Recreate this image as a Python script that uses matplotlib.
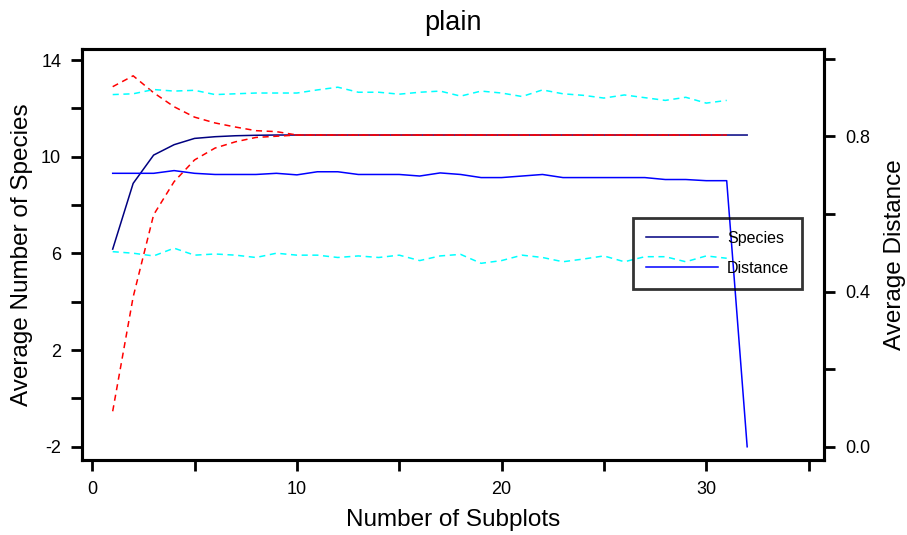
import matplotlib.pyplot as plt
from matplotlib.ticker import MultipleLocator

plt.rcParams['font.family'] = ['Liberation Sans', 'DejaVu Sans']
plt.rcParams['axes.unicode_minus'] = False

# x values (number of subplots)
subplots = list(range(1, 33))
subplots_ci = list(range(1, 32))

# average number of species (left axis)
species = [6.18, 8.9, 10.07, 10.5, 10.76, 10.83, 10.87, 10.89, 10.9, 10.9,
           10.9, 10.9, 10.9, 10.9, 10.9, 10.9, 10.9, 10.9, 10.9, 10.9,
           10.9, 10.9, 10.9, 10.9, 10.9, 10.9, 10.9, 10.9, 10.9, 10.9,
           10.9, 10.9]
species_hi = [12.9, 13.35, 12.65, 12.07, 11.64, 11.4, 11.23, 11.08, 11.04, 10.9,
              10.9, 10.9, 10.9, 10.9, 10.9, 10.9, 10.9, 10.9, 10.9, 10.9,
              10.9, 10.9, 10.9, 10.9, 10.9, 10.9, 10.9, 10.9, 10.9, 10.9,
              10.9]
species_lo = [-0.53, 4.2, 7.6, 8.97, 9.87, 10.36, 10.62, 10.8, 10.85, 10.9,
              10.9, 10.9, 10.9, 10.9, 10.9, 10.9, 10.9, 10.9, 10.9, 10.9,
              10.9, 10.9, 10.9, 10.9, 10.9, 10.9, 10.9, 10.9, 10.9, 10.9,
              10.9]

# average distance (right axis)
distance = [0.705, 0.705, 0.705, 0.712, 0.705, 0.702, 0.702, 0.702, 0.705, 0.701,
            0.709, 0.709, 0.702, 0.702, 0.702, 0.698, 0.706, 0.702, 0.694, 0.694,
            0.698, 0.702, 0.694, 0.694, 0.694, 0.694, 0.694, 0.689, 0.689, 0.686,
            0.686, 0.0]
distance_hi = [0.908, 0.91, 0.921, 0.917, 0.919, 0.908, 0.91, 0.912, 0.912, 0.912,
               0.92, 0.927, 0.914, 0.914, 0.909, 0.914, 0.917, 0.904, 0.917, 0.912,
               0.903, 0.92, 0.91, 0.906, 0.899, 0.907, 0.9, 0.893, 0.901, 0.886,
               0.893]
distance_lo = [0.503, 0.499, 0.492, 0.512, 0.494, 0.497, 0.494, 0.488, 0.499, 0.494,
               0.494, 0.488, 0.492, 0.488, 0.494, 0.48, 0.492, 0.496, 0.473, 0.48,
               0.494, 0.488, 0.477, 0.484, 0.492, 0.477, 0.49, 0.49, 0.477, 0.492,
               0.486]

fig = plt.figure(figsize=(9.07, 5.35), dpi=100)
ax = fig.add_axes([0.0904, 0.140, 0.818, 0.768])
ax2 = ax.twinx()

l_sp, = ax.plot(subplots, species, color='#000080', lw=1.1, label='Species')
ax.plot(subplots_ci, species_hi, color='#ff0000', lw=1.1, dashes=(4, 3))
ax.plot(subplots_ci, species_lo, color='#ff0000', lw=1.1, dashes=(4, 3))

l_d, = ax2.plot(subplots, distance, color='#0000ff', lw=1.1, label='Distance')
ax2.plot(subplots_ci, distance_hi, color='#00ffff', lw=1.1, dashes=(4, 3))
ax2.plot(subplots_ci, distance_lo, color='#00ffff', lw=1.1, dashes=(4, 3))

ylo, yhi = -2.55, 14.45
ax.set_xlim(-0.5, 35.75)
ax.set_ylim(ylo, yhi)
ax2.set_ylim((ylo + 2) / 16, (yhi + 2) / 16.05)

ax.xaxis.set_major_locator(MultipleLocator(10))
ax.xaxis.set_minor_locator(MultipleLocator(5))
ax.yaxis.set_minor_locator(MultipleLocator(2))
ax.set_yticks([14, 10, 6, 2, -2])
ax2.set_yticks([0.0, 0.4, 0.8])
ax2.set_yticks([0.2, 0.6, 1.0], minor=True)
ax2.yaxis.set_major_formatter(lambda v, p: f'{v:.1f}')

for a in (ax, ax2):
    for s in a.spines.values():
        s.set_linewidth(2.2)
    a.tick_params(which='both', direction='out', length=8, width=2,
                  labelsize=13, pad=7)

ax.set_xlabel('Number of Subplots', fontsize=17.5, labelpad=8)
ax.set_ylabel('Average Number of Species', fontsize=17.5, labelpad=6)
ax2.set_ylabel('Average Distance', fontsize=17.5, labelpad=10)
ax.set_title('plain', fontsize=19.5, pad=14)

leg = ax2.legend(handles=[l_sp, l_d], loc='upper left',
                 bbox_to_anchor=(633 / 907, 1 - 218 / 535),
                 bbox_transform=fig.transFigure, borderaxespad=0,
                 fontsize=11.5, handlelength=4.5, handletextpad=0.6,
                 fancybox=False, facecolor='none', edgecolor='black',
                 borderpad=0.8, labelspacing=0.95)
leg.get_frame().set_linewidth(2)

fig.savefig('out.png', dpi=100)
